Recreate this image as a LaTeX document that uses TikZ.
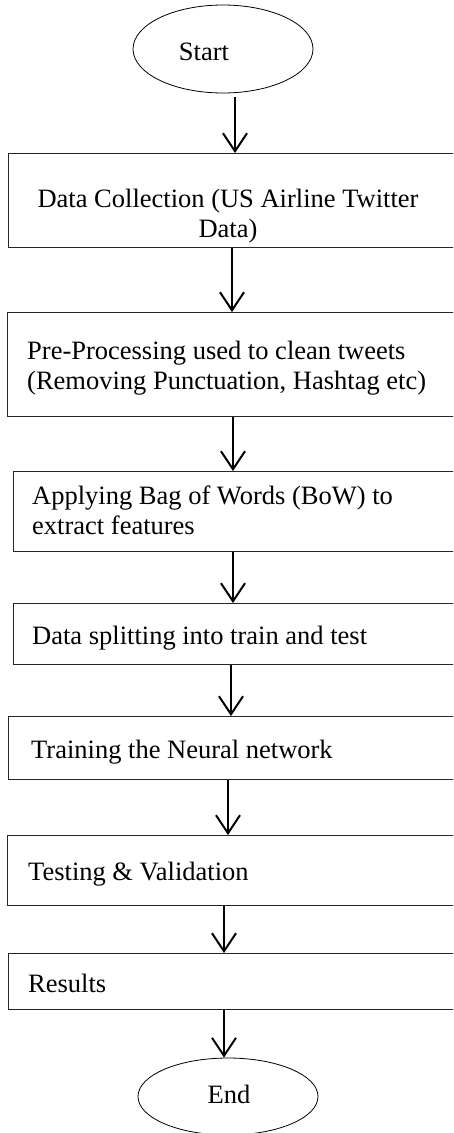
\documentclass[tikz,border=0pt]{standalone}
\usepackage{fontspec}
\setmainfont{Liberation Serif}
\usetikzlibrary{arrows.meta,shapes.geometric}
\begin{document}
\begin{tikzpicture}[x=1pt,y=-1pt,
  stepbox/.style={draw=black!85, line width=1pt, rectangle, anchor=north west, inner sep=0pt, minimum width=475pt-#1},
  term/.style={draw, ellipse, line width=0.8pt, minimum width=180pt, inner sep=0pt},
  txt/.style={font=\fontsize{26.5}{30}\selectfont, inner sep=0pt},
  flow/.style={line width=2pt, -{Straight Barb[length=18pt,width=24pt,line width=2pt]}}]
\useasboundingbox (0,0) rectangle (453,1133);
\clip (0,0) rectangle (453,1133);

% terminals
\node[term, minimum height=88pt] (start) at (223,49) {};
\node[txt, anchor=base] (tstart) at (204,60) {Start};
\node[term, minimum height=77pt] (end) at (228,1096.5) {};
\node[txt, anchor=base] (tend) at (229,1103) {End};

% process boxes (right edges run past the frame)
\node[stepbox=8pt,  minimum height=94pt]  (b1) at (8,153) {};
\node[stepbox=7pt,  minimum height=104pt] (b2) at (7,312) {};
\node[stepbox=13pt, minimum height=80pt]  (b3) at (13,471) {};
\node[stepbox=13pt, minimum height=61pt]  (b4) at (13,603) {};
\node[stepbox=8pt,  minimum height=63pt]  (b5) at (8,716) {};
\node[stepbox=7pt,  minimum height=70pt]  (b6) at (7,835) {};
\node[stepbox=8pt,  minimum height=56pt]  (b7) at (8,953) {};

% box texts (two-line texts are placed by the baseline of their last line)
\node[txt, anchor=base, align=center] (t1) at (228,237) {Data Collection (US Airline Twitter\\Data)};
\node[txt, anchor=base west, align=left] (t2) at (27,389) {Pre-Processing used to clean tweets\\(Removing Punctuation, Hashtag etc)};
\node[txt, anchor=base west, align=left] (t3) at (32,534) {Applying Bag of Words (BoW) to\\extract features};
\node[txt, anchor=base west] (t4) at (32,644) {Data splitting into train and test};
\node[txt, anchor=base west] (t5) at (31,758) {Training the Neural network};
\node[txt, anchor=base west] (t6) at (28,880) {Testing \& Validation};
\node[txt, anchor=base west] (t7) at (28,992) {Results};

% arrow columns
\coordinate (c1) at (235,0);
\coordinate (c2) at (232,0);
\coordinate (c3) at (233,0);
\coordinate (c4) at (233,0);
\coordinate (c5) at (231,0);
\coordinate (c6) at (228,0);
\coordinate (c7) at (224,0);
\coordinate (c8) at (224,0);

% connectors
\draw[flow, shorten <=4pt] (start.south -| c1) -- (b1.north -| c1);
\draw[flow] (b1.south -| c2) -- (b2.north -| c2);
\draw[flow] (b2.south -| c3) -- (b3.north -| c3);
\draw[flow] (b3.south -| c4) -- (b4.north -| c4);
\draw[flow] (b4.south -| c5) -- (b5.north -| c5);
\draw[flow] (b5.south -| c6) -- (b6.north -| c6);
\draw[flow] (b6.south -| c7) -- (b7.north -| c7);
\draw[flow] (b7.south -| c8) -- (end.north -| c8);
\end{tikzpicture}
\end{document}
